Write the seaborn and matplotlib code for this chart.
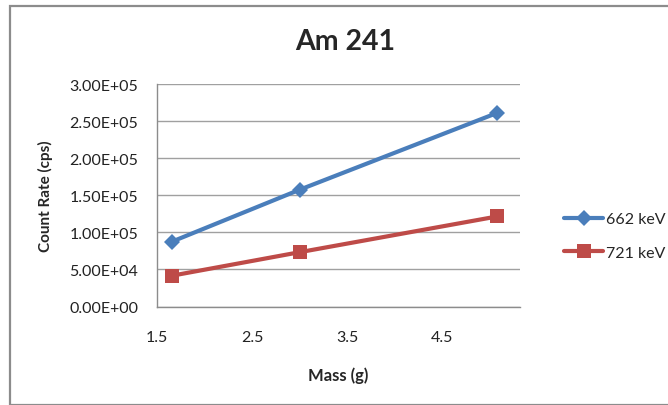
import matplotlib
matplotlib.use("Agg")
import matplotlib.pyplot as plt
import seaborn as sns
import pandas as pd
from matplotlib.lines import Line2D
from matplotlib.patches import Rectangle

mass = [1.66, 3.0, 5.08]
rate_662 = [87600, 157400, 261000]
rate_721 = [41600, 73200, 121400]
series_names = ["662 keV", "721 keV"]
y_ticks = [0, 50000, 100000, 150000, 200000, 250000, 300000]
x_ticks = [1.5, 2.5, 3.5, 4.5]

df = pd.DataFrame({
    "Mass": mass * 2,
    "Rate": rate_662 + rate_721,
    "Series": [series_names[0]] * 3 + [series_names[1]] * 3,
})

sns.set_theme(style="white")
plt.rcParams["font.family"] = ["Lato", "DejaVu Sans"]

fig = plt.figure(figsize=(6.68, 4.06), dpi=100)
ax = fig.add_axes([157 / 668, 1 - 307.5 / 406, (520 - 157) / 668, (307.5 - 85) / 406])

colors = {"662 keV": "#4a7ebb", "721 keV": "#be4b48"}
markers = {"662 keV": "D", "721 keV": "s"}
sizes = {"662 keV": 8.5, "721 keV": 10}
for name in series_names:
    sub = df[df["Series"] == name]
    sns.lineplot(data=sub, x="Mass", y="Rate", ax=ax, color=colors[name],
                 marker=markers[name], markersize=sizes[name], linewidth=3,
                 markeredgewidth=0, label=name, legend=False)

ax.set_xlim(1.5, 5.32)
ax.set_ylim(0, 300000)
ax.set_xticks(x_ticks)
ax.set_xticklabels([str(t) for t in x_ticks])
ax.set_yticks(y_ticks)
ax.set_yticklabels([f"{v:.2E}" for v in y_ticks])
ax.yaxis.grid(True, color="#a0a0a0", linewidth=1)
ax.xaxis.grid(False)
for s in ["top", "right"]:
    ax.spines[s].set_visible(False)
for s in ["left", "bottom"]:
    ax.spines[s].set_color("#8c8c8c")
    ax.spines[s].set_linewidth(1)
ax.tick_params(axis="both", labelsize=11.5, colors="#222222", length=0)
ax.tick_params(axis="x", pad=17)
ax.tick_params(axis="y", pad=13.5)
ax.set_xlabel("Mass (g)", fontsize=12, fontweight="bold", labelpad=16)
ax.set_ylabel("Count Rate (cps)", fontsize=11, fontweight="bold", labelpad=12)
fig.text(345 / 668, 1 - 42 / 406, "Am 241", ha="center", va="center",
         fontsize=20.5, fontweight="bold")

handles = [Line2D([], [], color=colors[n], marker=markers[n], markersize=sizes[n],
                  linewidth=3, markeredgewidth=0) for n in series_names]
fig.legend(handles, series_names, loc="center left", bbox_to_anchor=(550 / 668, 1 - 237 / 406),
           frameon=False, fontsize=11.5, handlelength=2.4, handletextpad=0.2, labelspacing=1.2)

fig.patches.append(Rectangle((10 / 668, 0), 1.2, 1 - 7 / 406, transform=fig.transFigure,
                             fill=False, edgecolor="#8c8c8c", linewidth=1.6))
fig.savefig("out.png", dpi=100, facecolor="white")
